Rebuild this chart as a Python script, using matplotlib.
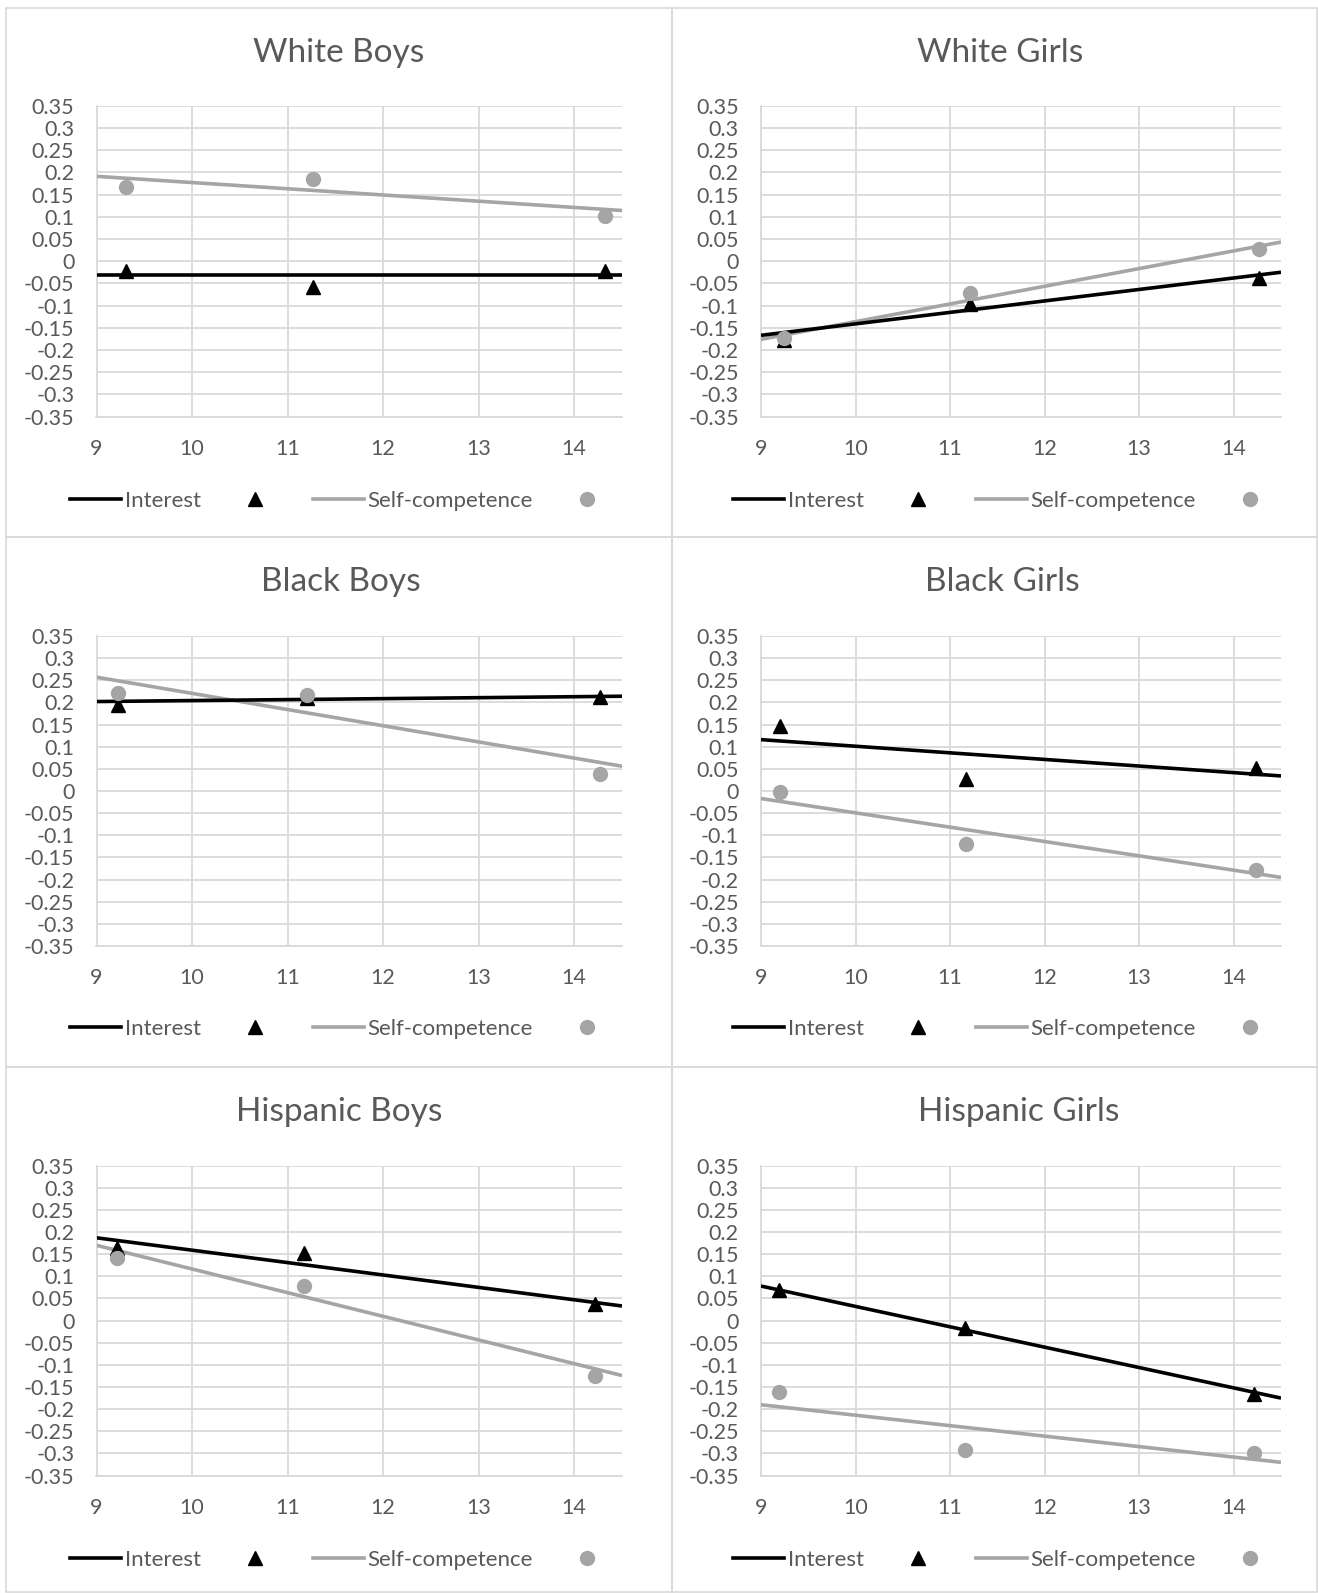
import matplotlib
matplotlib.use("Agg")
import matplotlib.pyplot as plt
from matplotlib.lines import Line2D

plt.rcParams['font.family'] = ['Lato', 'DejaVu Sans']

W, H = 1318, 1593

groups = ["White Boys", "White Girls", "Black Boys",
          "Black Girls", "Hispanic Boys", "Hispanic Girls"]

# ages where each wave was measured
ages = [[9.31, 11.27, 14.32],
        [9.24, 11.21, 14.27],
        [9.23, 11.20, 14.27],
        [9.20, 11.17, 14.24],
        [9.21, 11.17, 14.22],
        [9.19, 11.16, 14.21]]

interest = [[-0.022, -0.058, -0.022],
            [-0.177, -0.096, -0.039],
            [0.195, 0.210, 0.213],
            [0.146, 0.028, 0.051],
            [0.164, 0.153, 0.037],
            [0.069, -0.017, -0.165]]

competence = [[0.167, 0.185, 0.102],
              [-0.174, -0.072, 0.027],
              [0.221, 0.217, 0.039],
              [-0.002, -0.120, -0.178],
              [0.141, 0.079, -0.126],
              [-0.162, -0.292, -0.300]]

# trend line ends, at age 9 and 14.5
trend_x = [9, 14.5]
interest_trend = [[-0.032, -0.032], [-0.167, -0.025], [0.202, 0.214],
                  [0.116, 0.034], [0.187, 0.033], [0.078, -0.175]]
competence_trend = [[0.191, 0.114], [-0.176, 0.043], [0.257, 0.056],
                    [-0.017, -0.195], [0.170, -0.124], [-0.190, -0.320]]

x_ticks = [9, 10, 11, 12, 13, 14]
y_ticks = [0.35, 0.3, 0.25, 0.2, 0.15, 0.1, 0.05, 0,
           -0.05, -0.1, -0.15, -0.2, -0.25, -0.3, -0.35]
y_labels = ["0.35", "0.3", "0.25", "0.2", "0.15", "0.1", "0.05", "0",
            "-0.05", "-0.1", "-0.15", "-0.2", "-0.25", "-0.3", "-0.35"]

TXT = '#595959'
GRID = '#D9D9D9'
GRAY = '#A5A5A5'

# pixel layout of the six panels
col_x = [(6, 672), (672, 1317)]
row_y = [(8, 537), (537, 1067), (1067, 1592)]
plot_x = [(96.5, 622), (761, 1281)]
plot_y = [(105.7, 416.6), (636, 946), (1165.6, 1475.6)]
title_x = [339, 1000, 341, 1002, 339, 1019]
title_y = [53, 582, 1112]
legend_x = [343, 1006]
legend_y = [501, 1029, 1560]

fig = plt.figure(figsize=(W / 100, H / 100), dpi=100)

for i, name in enumerate(groups):
    r, c = divmod(i, 2)
    # panel frame
    x0, x1 = col_x[c]
    y0, y1 = row_y[r]
    fig.patches.append(plt.Rectangle((x0 / W, 1 - y1 / H), (x1 - x0) / W,
                                     (y1 - y0) / H, transform=fig.transFigure,
                                     fill=False, edgecolor=GRID, lw=1.2))
    px0, px1 = plot_x[c]
    py0, py1 = plot_y[r]
    ax = fig.add_axes([px0 / W, 1 - py1 / H, (px1 - px0) / W, (py1 - py0) / H])

    ax.plot(trend_x, competence_trend[i], color=GRAY, lw=2.6, zorder=3,
            solid_capstyle='butt')
    ax.plot(trend_x, interest_trend[i], color='black', lw=2.6, zorder=4,
            solid_capstyle='butt')
    ax.plot(ages[i], interest[i], ls='none', marker='^', color='black',
            ms=10, zorder=5)
    ax.plot(ages[i], competence[i], ls='none', marker='o', color=GRAY,
            ms=10, zorder=6)

    ax.set_xlim(9, 14.5)
    ax.set_ylim(-0.35, 0.35)
    ax.set_xticks(x_ticks)
    ax.set_xticklabels([str(t) for t in x_ticks])
    ax.set_yticks(y_ticks)
    ax.set_yticklabels(y_labels)
    ax.grid(True, color=GRID, lw=1.3)
    ax.set_axisbelow(True)
    ax.tick_params(length=0, labelsize=15.5, colors=TXT)
    ax.tick_params(axis='x', pad=16)
    ax.tick_params(axis='y', pad=16)
    for s in ['top', 'right']:
        ax.spines[s].set_visible(False)
    for s in ['left', 'bottom']:
        ax.spines[s].set_color(GRID)
        ax.spines[s].set_linewidth(1.3)

    fig.text(title_x[i] / W, 1 - title_y[r] / H, name, ha='center',
             va='center', fontsize=24, color=TXT)

    handles = [Line2D([], [], color='black', lw=2.6),
               Line2D([], [], ls='none', marker='^', color='black', ms=10),
               Line2D([], [], color=GRAY, lw=2.6),
               Line2D([], [], ls='none', marker='o', color=GRAY, ms=10)]
    fig.legend(handles, ['Interest', '', 'Self-competence', ''], ncol=4,
               loc='center',
               bbox_to_anchor=(legend_x[c] / W, 1 - legend_y[r] / H),
               frameon=False, fontsize=16, labelcolor=TXT, handlelength=2.3,
               handletextpad=0.15, columnspacing=1.3)

fig.savefig("out.png", dpi=100, facecolor='white')
